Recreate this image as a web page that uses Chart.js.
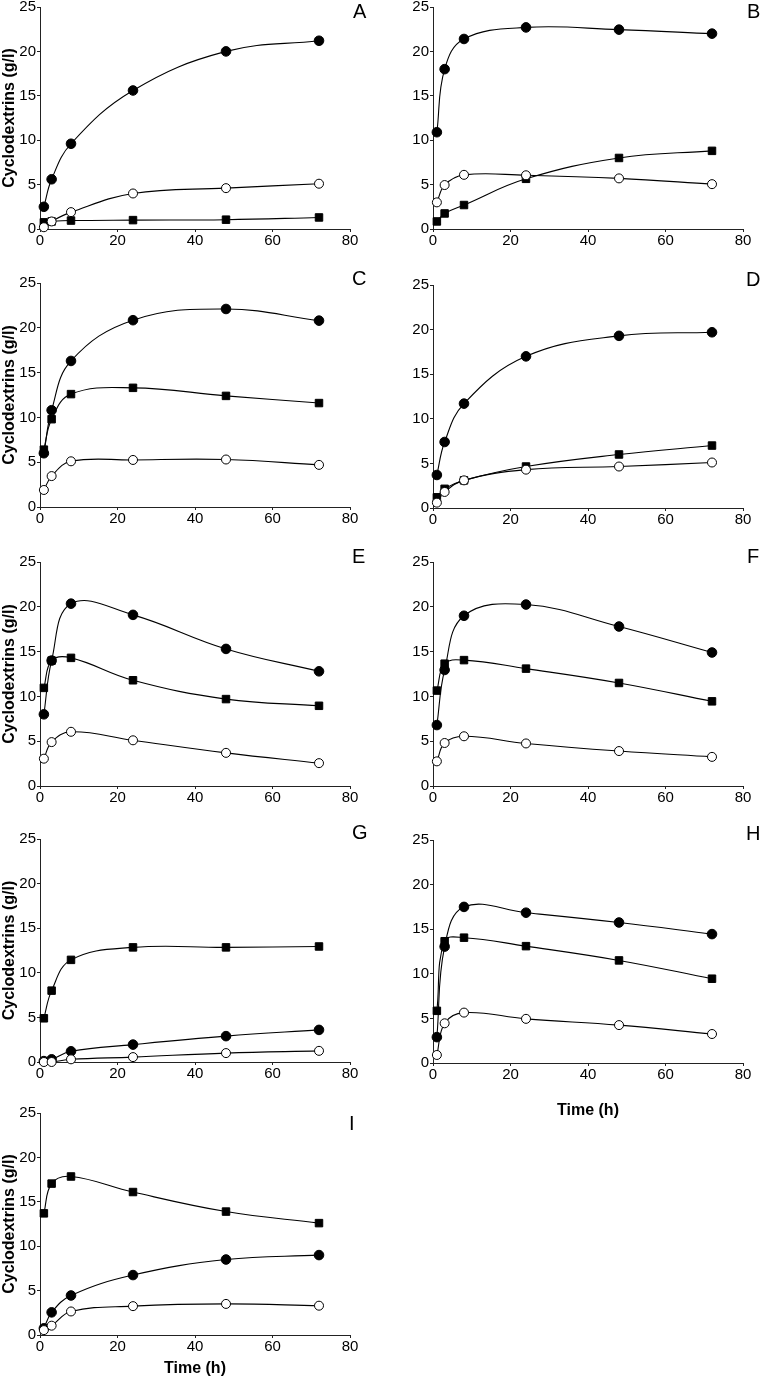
<!DOCTYPE html>
<html>
<head>
<meta charset="utf-8">
<script src="https://cdn.jsdelivr.net/npm/chart.js@4.4.1/dist/chart.umd.min.js"></script>
<style>
  html, body { margin: 0; padding: 0; background: #fff; }
  body { width: 761px; height: 1378px; position: relative; overflow: hidden; }
  .panel { position: absolute; }
</style>
</head>
<body>
<script>
// sampling times (h) shared by every panel
const times = [1, 3, 8, 24, 48, 72];
const xTickValues = [0, 20, 40, 60, 80];
const yTickValues = [0, 5, 10, 15, 20, 25];

// panel A
const aFilled = [2.5, 5.6, 9.6, 15.6, 20.0, 21.2];
const aOpen   = [0.2, 0.85, 1.9, 4.0, 4.6, 5.1];
const aSquare = [0.75, 0.85, 0.95, 1.0, 1.05, 1.3];
// panel B
const bFilled = [10.9, 18.0, 21.4, 22.7, 22.45, 22.0];
const bOpen   = [3.0, 4.95, 6.1, 6.05, 5.7, 5.05];
const bSquare = [0.85, 1.75, 2.7, 5.65, 8.0, 8.8];
// panel C
const cFilled = [6.0, 10.8, 16.3, 20.85, 22.1, 20.8];
const cOpen   = [1.9, 3.45, 5.1, 5.25, 5.3, 4.7];
const cSquare = [6.4, 9.8, 12.6, 13.3, 12.4, 11.6];
// panel D
const dFilled = [3.7, 7.4, 11.7, 17.0, 19.3, 19.7];
const dOpen   = [0.6, 1.8, 3.1, 4.3, 4.65, 5.1];
const dSquare = [1.2, 2.15, 3.1, 4.65, 6.0, 7.0];
// panel E
const eFilled = [8.0, 14.0, 20.35, 19.1, 15.3, 12.8];
const eOpen   = [3.05, 4.9, 6.05, 5.1, 3.7, 2.55];
const eSquare = [10.95, 14.0, 14.3, 11.8, 9.7, 8.95];
// panel F
const fFilled = [6.8, 12.95, 19.0, 20.25, 17.8, 14.9];
const fOpen   = [2.75, 4.8, 5.55, 4.75, 3.9, 3.25];
const fSquare = [10.65, 13.65, 14.05, 13.1, 11.5, 9.45];
// panel G
const gFilled = [0.1, 0.3, 1.2, 1.95, 2.9, 3.6];
const gOpen   = [0.0, 0.0, 0.3, 0.55, 1.0, 1.25];
const gSquare = [4.9, 8.0, 11.45, 12.85, 12.85, 12.95];
// panel H
const hFilled = [2.9, 13.05, 17.5, 16.85, 15.75, 14.45];
const hOpen   = [0.9, 4.45, 5.65, 4.95, 4.25, 3.25];
const hSquare = [5.85, 13.65, 14.05, 13.1, 11.5, 9.45];
// panel I
const iFilled = [0.75, 2.55, 4.45, 6.75, 8.5, 9.0];
const iOpen   = [0.55, 1.05, 2.65, 3.25, 3.5, 3.3];
const iSquare = [13.7, 17.05, 17.85, 16.1, 13.9, 12.6];

const panels = [
  { name: 'A', filled: aFilled, open: aOpen, square: aSquare },
  { name: 'B', filled: bFilled, open: bOpen, square: bSquare },
  { name: 'C', filled: cFilled, open: cOpen, square: cSquare },
  { name: 'D', filled: dFilled, open: dOpen, square: dSquare },
  { name: 'E', filled: eFilled, open: eOpen, square: eSquare },
  { name: 'F', filled: fFilled, open: fOpen, square: fSquare },
  { name: 'G', filled: gFilled, open: gOpen, square: gSquare },
  { name: 'H', filled: hFilled, open: hOpen, square: hSquare },
  { name: 'I', filled: iFilled, open: iOpen, square: iSquare }
];

// page layout of each panel (plot area top/bottom, letter placement)
const layout = [
  { col: 0, top: 7,    bottom: 229,  letterX: 353, letterY: 18 },
  { col: 1, top: 7,    bottom: 229,  letterX: 747, letterY: 18 },
  { col: 0, top: 283,  bottom: 507,  letterX: 352, letterY: 285 },
  { col: 1, top: 285,  bottom: 508,  letterX: 746, letterY: 286 },
  { col: 0, top: 562,  bottom: 786,  letterX: 352, letterY: 563 },
  { col: 1, top: 562,  bottom: 786,  letterX: 747, letterY: 563 },
  { col: 0, top: 839,  bottom: 1062, letterX: 352, letterY: 839 },
  { col: 1, top: 840,  bottom: 1063, letterX: 746, letterY: 840, xTitleH: 57 },
  { col: 0, top: 1113, bottom: 1335, letterX: 349, letterY: 1130, xTitleH: 43 }
];

const FONT = "'Liberation Sans', Arial, Helvetica, sans-serif";

function series(vals) {
  return times.map((t, i) => ({ x: t, y: vals[i] }));
}

function makePanel(p, L) {
  const colLeft = L.col === 0 ? 0 : 380;
  const canvasW = L.col === 0 ? 380 : 381;
  const yW = L.col === 0 ? 40 : 53;
  const axisRight = L.col === 0 ? 350 : 743;
  const padTop = 22;
  const xH = L.xTitleH || 22;
  const cTop = L.top - padTop;
  const cH = L.bottom - cTop + xH;

  const div = document.createElement('div');
  div.className = 'panel';
  div.style.left = colLeft + 'px';
  div.style.top = cTop + 'px';
  const cv = document.createElement('canvas');
  cv.width = canvasW;
  cv.height = cH;
  div.appendChild(cv);
  document.body.appendChild(div);

  const common = { borderColor: '#000', borderWidth: 1.1, tension: 0.4, clip: false, fill: false,
                   pointBorderColor: '#000', pointBorderWidth: 1 };

  new Chart(cv, {
    type: 'line',
    data: {
      datasets: [
        Object.assign({ data: series(p.open), pointStyle: 'circle', pointRadius: 4.5,
                        pointBackgroundColor: '#fff' }, common),
        Object.assign({ data: series(p.square), pointStyle: 'rect', pointRadius: 5.3,
                        pointBackgroundColor: '#000' }, common),
        Object.assign({ data: series(p.filled), pointStyle: 'circle', pointRadius: 4.8,
                        pointBackgroundColor: '#000' }, common)
      ]
    },
    options: {
      responsive: false,
      animation: false,
      events: [],
      layout: { padding: { top: padTop, right: colLeft + canvasW - axisRight, left: 0, bottom: 0 } },
      plugins: { legend: { display: false }, tooltip: { enabled: false } },
      scales: {
        x: {
          type: 'linear', min: 0, max: 80,
          afterBuildTicks: s => { s.ticks = xTickValues.map(v => ({ value: v })); },
          afterFit: s => { s.height = xH; },
          ticks: { color: '#000', font: { family: FONT, size: 15 }, padding: 0, maxRotation: 0, autoSkip: false },
          grid: { drawOnChartArea: false, tickLength: 3, color: '#222' },
          border: { color: '#222', width: 1 },
          title: { display: !!L.xTitleH, text: 'Time (h)', color: '#000', padding: 0,
                   font: { family: FONT, size: 16, weight: 'bold' } }
        },
        y: {
          min: 0, max: 25,
          afterBuildTicks: s => { s.ticks = yTickValues.map(v => ({ value: v })); },
          afterFit: s => { s.width = yW; },
          ticks: { color: '#000', font: { family: FONT, size: 15 }, padding: 1, autoSkip: false },
          grid: { drawOnChartArea: false, tickLength: 3, color: '#222' },
          border: { color: '#222', width: 1 },
          title: { display: L.col === 0, text: 'Cyclodextrins (g/l)', color: '#000', padding: 0,
                   font: { family: FONT, size: 16, weight: 'bold' } }
        }
      }
    },
    plugins: [{
      id: 'panelLetter',
      afterDraw(chart) {
        const ctx = chart.ctx;
        ctx.save();
        ctx.fillStyle = '#000';
        ctx.font = '20px ' + FONT;
        ctx.textBaseline = 'alphabetic';
        ctx.textAlign = 'left';
        ctx.fillText(p.name, L.letterX - colLeft, L.letterY - cTop);
        ctx.restore();
      }
    }]
  });
}

panels.forEach((p, i) => makePanel(p, layout[i]));
</script>
</body>
</html>
